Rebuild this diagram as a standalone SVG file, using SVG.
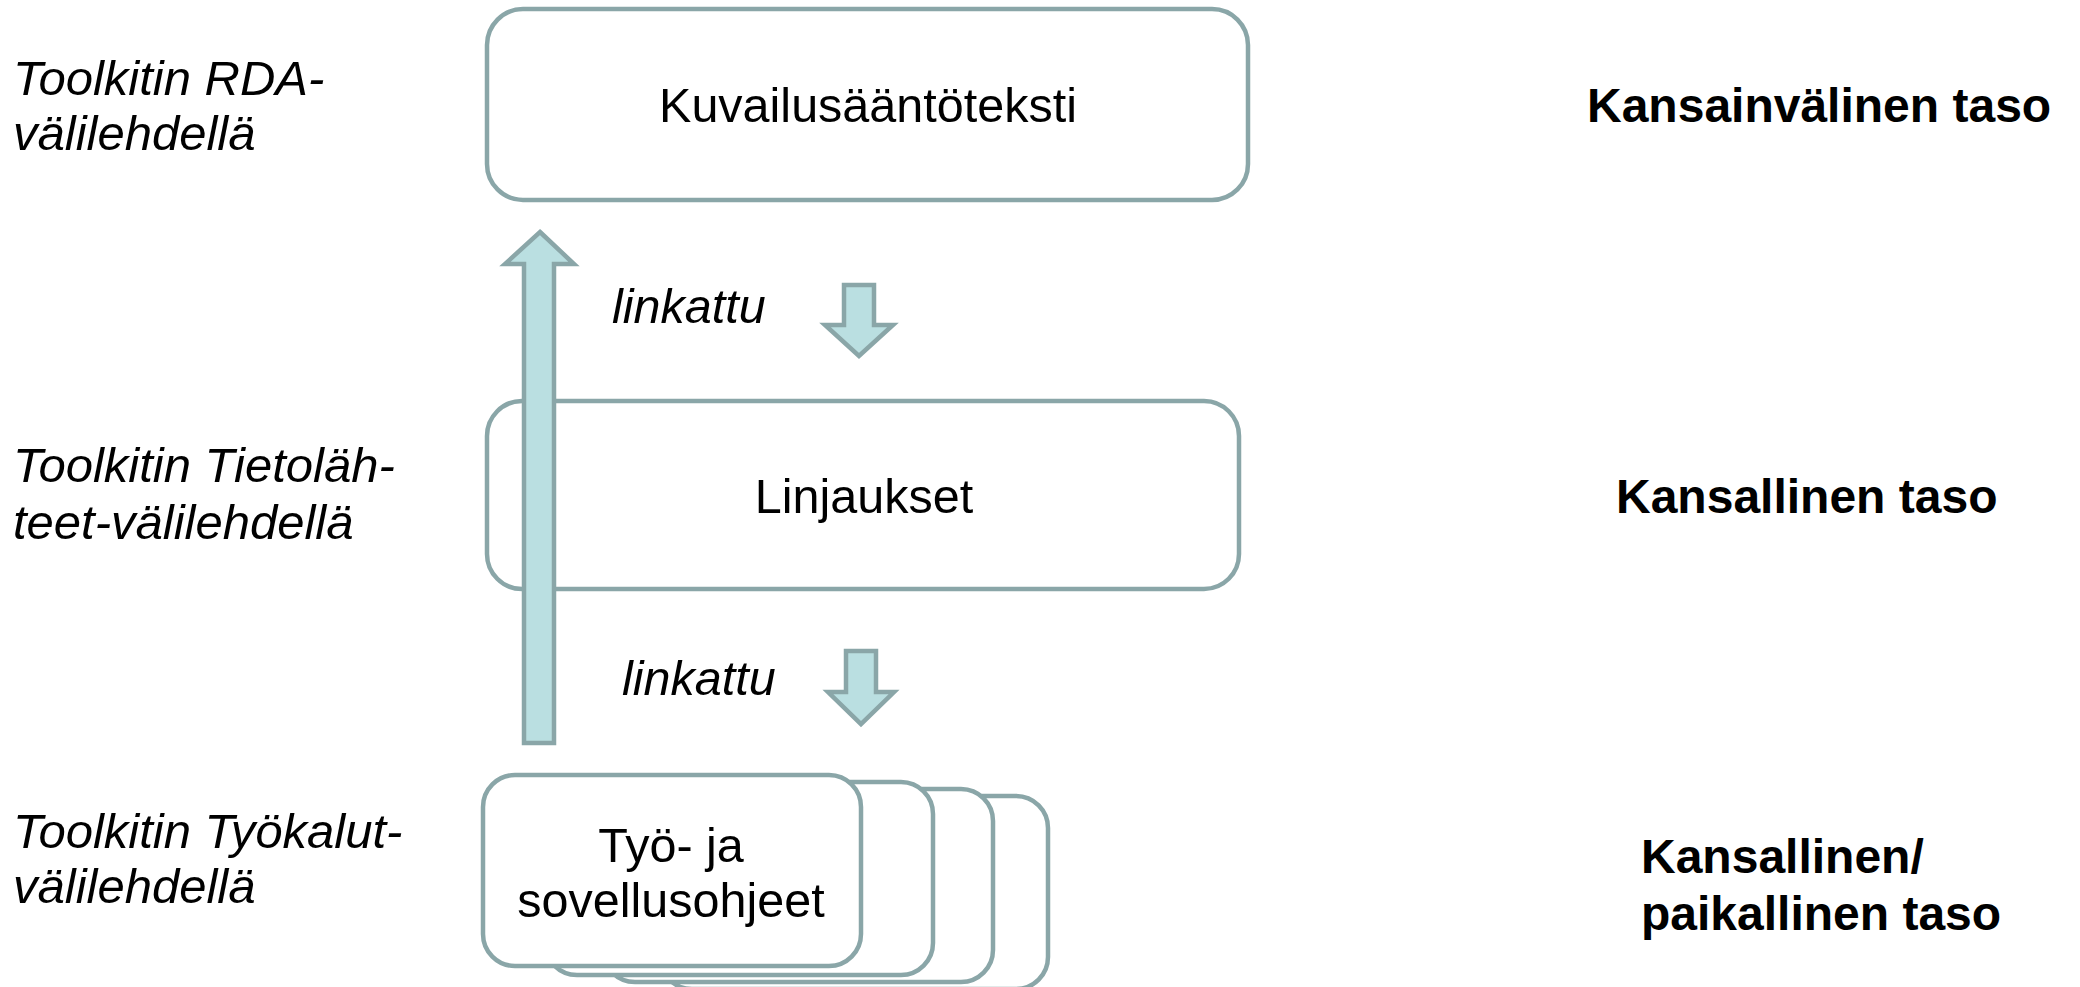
<svg xmlns="http://www.w3.org/2000/svg" width="2080" height="987" viewBox="0 0 2080 987">
<style>
.box{fill:#fff;stroke:#8AA6A8;stroke-width:4.5}
.arr{fill:#BADFE1;stroke:#8AA6A8;stroke-width:4.5;stroke-linejoin:miter}
.t{font-family:"Liberation Sans",Arial,sans-serif;font-size:48.5px;fill:#000}
.c{text-anchor:middle}
.i{font-style:italic}
.l{font-size:49px}
.b{font-weight:bold;font-size:48px}
</style>
<rect width="2080" height="987" fill="#fff"/>
<g id="labels-left">
<text class="t i l" x="13" y="95">Toolkitin RDA-</text>
<text class="t i l" x="13" y="150">välilehdellä</text>
<text class="t i l" x="13" y="482">Toolkitin Tietoläh-</text>
<text class="t i l" x="13" y="539">teet-välilehdellä</text>
<text class="t i l" x="13" y="848">Toolkitin Työkalut-</text>
<text class="t i l" x="13" y="903">välilehdellä</text>
</g>
<g id="labels-right">
<text class="t b" x="1587" y="122">Kansainvälinen taso</text>
<text class="t b" x="1616" y="513">Kansallinen taso</text>
<text class="t b" x="1641" y="873">Kansallinen/</text>
<text class="t b" x="1641" y="930">paikallinen taso</text>
</g>
<g id="node-kuvailusaantoteksti">
<rect class="box" x="487" y="9" width="761" height="191" rx="36"/>
<text class="t c" x="868" y="122">Kuvailusääntöteksti</text>
</g>
<g id="node-linjaukset">
<rect class="box" x="487" y="401" width="752" height="188" rx="35"/>
<text class="t c" x="864" y="513">Linjaukset</text>
</g>
<g id="node-ohjeet">
<rect class="box" x="660" y="796" width="388" height="193" rx="32"/>
<rect class="box" x="603" y="789" width="390" height="193" rx="32"/>
<rect class="box" x="545" y="782" width="388" height="193" rx="32"/>
<rect class="box" x="483" y="775" width="378" height="191" rx="32"/>
<text class="t c" x="671" y="862">Työ- ja</text>
<text class="t c" x="671" y="917">sovellusohjeet</text>
</g>
<g id="connectors">
<polygon class="arr" points="540,232 574,264 554,264 554,743 524,743 524,264 505,264"/>
<polygon class="arr" points="844,285 874,285 874,325 893,325 859,356 825,325 844,325"/>
<polygon class="arr" points="846,651 876,651 876,692 894,692 861,724 828,692 846,692"/>
<text class="t i" x="612" y="323">linkattu</text>
<text class="t i" x="622" y="695">linkattu</text>
</g>
</svg>
